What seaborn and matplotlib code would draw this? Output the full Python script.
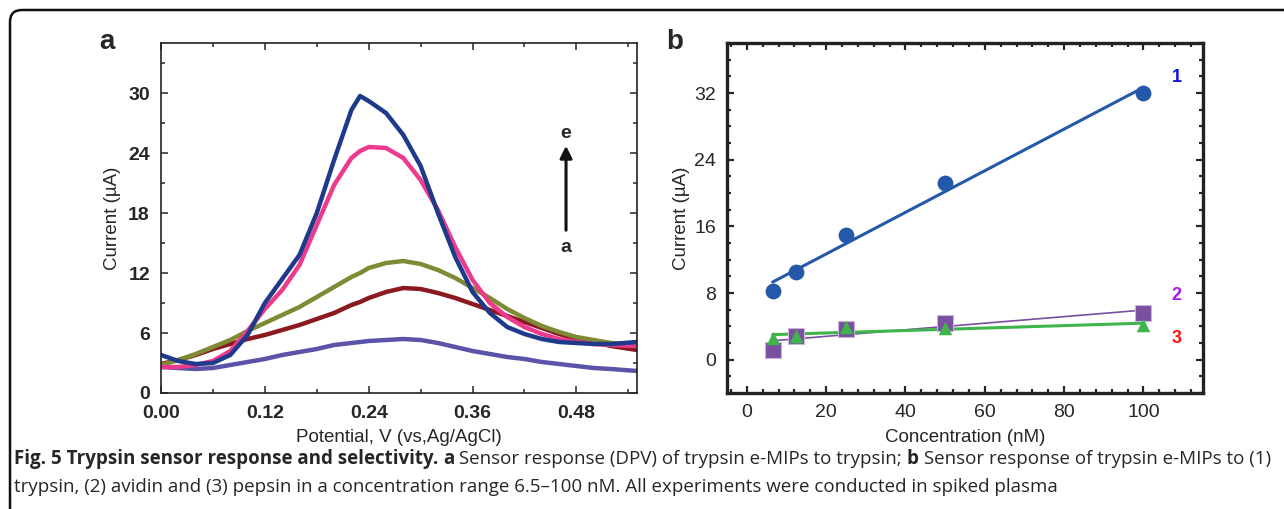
import numpy as np
import pandas as pd
import matplotlib
matplotlib.use("Agg")
import matplotlib.pyplot as plt
from matplotlib.patches import FancyBboxPatch
from matplotlib.ticker import MultipleLocator
import seaborn as sns

# ---- panel a: DPV curves (a -> e) ----
potential = [0.00, 0.02, 0.04, 0.06, 0.08, 0.10, 0.12, 0.14, 0.16, 0.18, 0.20, 0.22, 0.23,
             0.24, 0.26, 0.28, 0.30, 0.32, 0.34, 0.36, 0.38, 0.40, 0.42, 0.44, 0.46, 0.48,
             0.50, 0.52, 0.55]
curve_a = [2.6, 2.5, 2.4, 2.5, 2.8, 3.1, 3.4, 3.8, 4.1, 4.4, 4.8, 5.0, 5.1,
           5.2, 5.3, 5.4, 5.3, 5.0, 4.6, 4.2, 3.9, 3.6, 3.4, 3.1, 2.9, 2.7, 2.5, 2.4, 2.2]
curve_b = [2.9, 3.3, 3.8, 4.4, 4.9, 5.4, 5.8, 6.3, 6.8, 7.4, 8.0, 8.8, 9.1,
           9.5, 10.1, 10.5, 10.4, 10.0, 9.5, 8.9, 8.3, 7.7, 7.1, 6.5, 5.9, 5.4, 5.1, 4.7, 4.3]
curve_c = [2.8, 3.3, 3.9, 4.6, 5.3, 6.2, 7.0, 7.8, 8.6, 9.6, 10.6, 11.6, 12.0,
           12.5, 13.0, 13.2, 12.9, 12.3, 11.5, 10.5, 9.5, 8.4, 7.5, 6.7, 6.1, 5.6, 5.3, 5.0, 4.8]
curve_d = [2.6, 2.6, 2.8, 3.2, 4.2, 6.2, 8.4, 10.3, 12.8, 16.8, 20.8, 23.5, 24.2,
           24.6, 24.5, 23.5, 21.3, 18.3, 14.6, 11.3, 9.0, 7.6, 6.6, 5.9, 5.4, 5.1, 4.9, 4.8, 4.7]
curve_e = [3.8, 3.2, 2.9, 3.0, 3.8, 5.8, 9.0, 11.4, 13.8, 18.0, 23.3, 28.3, 29.7,
           29.2, 28.0, 25.8, 22.7, 18.0, 13.6, 10.1, 8.0, 6.6, 5.9, 5.4, 5.1, 5.0, 4.9, 4.9, 5.1]
curve_names = ["a", "b", "c", "d", "e"]
curve_colors = ["#5a53a7", "#8a1a20", "#7f8a34", "#ee3a8c", "#1f3a8a"]

# ---- panel b: calibration ----
conc = [6.5, 12.5, 25, 50, 100]
trypsin = [8.2, 10.5, 15.0, 21.2, 32.0]
avidin = [1.2, 2.8, 3.7, 4.4, 5.6]
pepsin = [2.6, 2.9, 3.9, 3.8, 4.2]
series_labels = ["1", "2", "3"]
label_colors = ["#1212e0", "#a818ee", "#ff1010"]

caption_1 = [("Fig. 5 Trypsin sensor response and selectivity.", "bold"), (" ", "normal"),
             ("a", "bold"), (" Sensor response (DPV) of trypsin e-MIPs to trypsin; ", "normal"),
             ("b", "bold"), (" Sensor response of trypsin e-MIPs to (1)", "normal")]
caption_2 = ("trypsin, (2) avidin and (3) pepsin in a concentration range 6.5\u2013100 nM. "
             "All experiments were conducted in spiked plasma")

sns.set_theme(style="ticks")
plt.rcParams["font.family"] = ["Liberation Sans", "DejaVu Sans"]

fig = plt.figure(figsize=(12.84, 5.09), dpi=100)
ax_a = fig.add_axes([0.1254, 0.2279, 0.3707, 0.6876])
ax_b = fig.add_axes([0.5662, 0.2279, 0.3707, 0.6876])

# panel a
df_a = pd.DataFrame({"potential": potential * 5,
                     "current": curve_a + curve_b + curve_c + curve_d + curve_e,
                     "curve": sum([[n] * len(potential) for n in curve_names], [])})
sns.lineplot(data=df_a, x="potential", y="current", hue="curve", palette=curve_colors,
             linewidth=3.2, sort=False, legend=False, ax=ax_a,
             solid_joinstyle="round", solid_capstyle="round")
ax_a.set_xlim(0, 0.55)
ax_a.set_ylim(0, 35)
ax_a.xaxis.set_minor_locator(MultipleLocator(0.06))
ax_a.yaxis.set_minor_locator(MultipleLocator(3))
ax_a.set_xticks([0, 0.12, 0.24, 0.36, 0.48])
ax_a.set_xticklabels(["0.00", "0.12", "0.24", "0.36", "0.48"])
ax_a.set_yticks([0, 6, 12, 18, 24, 30])
ax_a.tick_params(which="both", direction="in", top=True, right=True, width=1.1, labelsize=14)
ax_a.tick_params(which="major", length=5)
ax_a.tick_params(which="minor", length=3)
ax_a.tick_params(axis="x", pad=9)
ax_a.tick_params(axis="y", pad=8)
for lab in ax_a.get_xticklabels() + ax_a.get_yticklabels():
    lab.set_fontweight("bold")
for sp in ax_a.spines.values():
    sp.set_linewidth(1.2)
    sp.set_color("#222222")
ax_a.set_xlabel("Potential, V (vs,Ag/AgCl)", fontsize=13.5, labelpad=5)
ax_a.set_ylabel("Current (\u00b5A)", fontsize=13.5, labelpad=5)
ax_a.annotate("", xy=(0.468, 25.0), xytext=(0.468, 16.0),
              arrowprops=dict(arrowstyle="-|>", color="#111111", lw=2.2, mutation_scale=18))
ax_a.text(0.468, 26.0, "e", ha="center", va="center", fontsize=14, fontweight="bold")
ax_a.text(0.468, 14.6, "a", ha="center", va="center", fontsize=14, fontweight="bold")
fig.text(107 / 1284, 1 - 42 / 509, "a", ha="center", va="center", fontsize=20, fontweight="bold")

# panel b
sns.regplot(x=conc, y=avidin, ci=None, marker="s", color="#7b4fa0", ax=ax_b,
            scatter_kws=dict(s=120, edgecolor="#c8b4dc", linewidths=0.8, alpha=1, zorder=3),
            line_kws=dict(linewidth=1.2, zorder=2))
sns.regplot(x=conc, y=pepsin, ci=None, marker="^", color="#3db54a", ax=ax_b,
            scatter_kws=dict(s=95, linewidths=0, alpha=1, zorder=4),
            line_kws=dict(linewidth=2.2, zorder=2))
sns.regplot(x=conc, y=trypsin, ci=None, marker="o", color="#2459a9", ax=ax_b,
            scatter_kws=dict(s=130, linewidths=0, alpha=1, zorder=4),
            line_kws=dict(linewidth=2.2, zorder=2))
ax_b.set_xlim(-5, 115)
ax_b.set_ylim(-4, 38)
ax_b.xaxis.set_minor_locator(MultipleLocator(4))
ax_b.yaxis.set_minor_locator(MultipleLocator(2))
ax_b.set_xticks([0, 20, 40, 60, 80, 100])
ax_b.set_yticks([0, 8, 16, 24, 32])
ax_b.tick_params(which="both", direction="in", top=True, right=True, width=1.6, labelsize=14)
ax_b.tick_params(which="major", length=5, pad=8)
ax_b.tick_params(which="minor", length=3)
for sp in ax_b.spines.values():
    sp.set_linewidth(2.4)
    sp.set_color("#222222")
ax_b.set_xlabel("Concentration (nM)", fontsize=13.5, labelpad=6)
ax_b.set_ylabel("Current (\u00b5A)", fontsize=13.5, labelpad=3)
for lab, col, yy in zip(series_labels, label_colors, [33.9, 7.7, 2.6]):
    ax_b.text(108.3, yy, lab, color=col, ha="center", va="center", fontsize=13, fontweight="bold")
fig.text(675 / 1284, 1 - 42 / 509, "b", ha="center", va="center", fontsize=20, fontweight="bold")

# frame and caption
ax_f = fig.add_axes([0, 0, 1, 1])
ax_f.set_xlim(0, 1284)
ax_f.set_ylim(509, 0)
ax_f.axis("off")
ax_f.patch.set_alpha(0)
ax_f.add_patch(FancyBboxPatch((10, 10), 1300, 520, boxstyle="round,pad=0,rounding_size=12",
                              fill=False, edgecolor="#111111", linewidth=1.8, clip_on=False))
cap_font = ["Open Sans", "DejaVu Sans"]
cap_size = 13.5
prev = ax_f.text(14, 459, caption_1[0][0], fontsize=cap_size, fontweight=caption_1[0][1],
                 family=cap_font, va="center", ha="left")
for txt, wt in caption_1[1:]:
    prev = ax_f.annotate(txt, xy=(1, 0.5), xycoords=prev, va="center", ha="left",
                         fontsize=cap_size, fontweight=wt, family=cap_font, annotation_clip=False)
ax_f.text(14, 487, caption_2, fontsize=cap_size, family=cap_font, va="center", ha="left")

fig.savefig("out.png", dpi=100)
